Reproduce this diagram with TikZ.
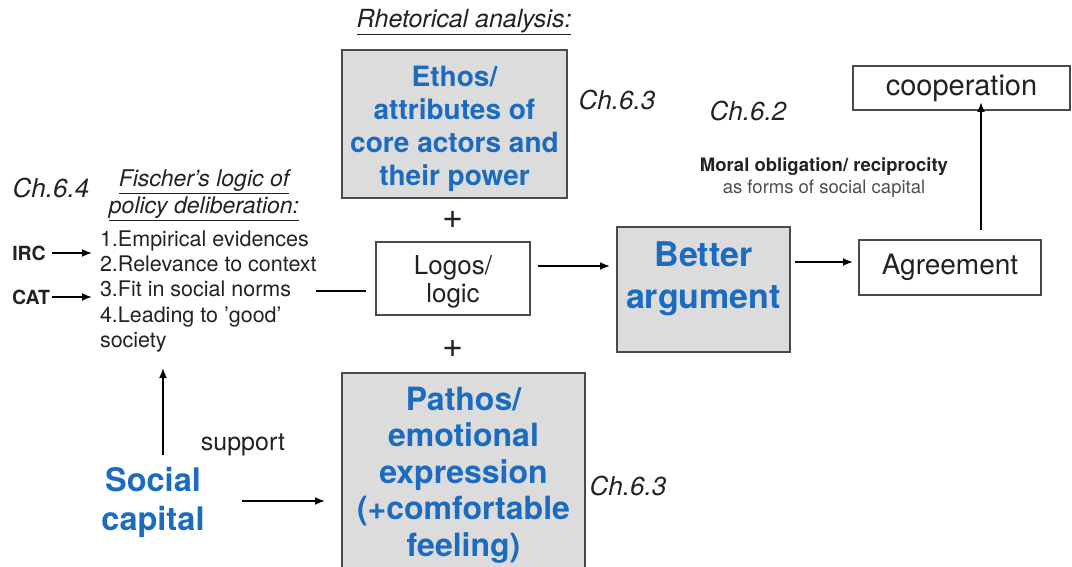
\documentclass[tikz,border=0pt]{standalone}
\usepackage{fontspec}
\setmainfont{TeX Gyre Heros}
\usetikzlibrary{arrows.meta}
\definecolor{keyblue}{HTML}{1B6BC0}
\definecolor{boxgray}{HTML}{DCDCDC}
\definecolor{edgegray}{HTML}{4A4A4A}
\definecolor{ink}{HTML}{222222}
\newcommand{\fs}[2]{\fontsize{#1}{#2}\selectfont}
\begin{document}
\begin{tikzpicture}[x=1pt,y=-1pt,
  every node/.style={inner sep=0pt,outer sep=0pt,text=ink},
  graybox/.style={draw=edgegray,line width=1.3pt,fill=boxgray},
  whitebox/.style={draw=edgegray,line width=1.2pt,fill=white},
  bluetext/.style={align=center,text=keyblue},
  chap/.style={font=\itshape\fs{26}{30}},
  arr/.style={line width=1.8pt,draw=black,-{Latex[length=10pt,width=8pt]}},
  conn/.style={line width=1.8pt,draw=black}]
\useasboundingbox (0,0) rectangle (1072,567);

% heading of the rhetorical column
\node[font=\itshape\fs{25}{28}] (rhet) at (464,22) {\underline{Rhetorical analysis:}};

% the three appeals: boxes first, then their texts
\node[graybox,minimum width=225pt,minimum height=148pt] (ethos) at (454.5,124) {};
\node[bluetext,font=\bfseries\fs{28}{33}] (ethostext) at ([yshift=-5pt]ethos.center)
  {Ethos/\\attributes of\\core actors and\\their power};
\node[whitebox,minimum width=154pt,minimum height=73pt] (logos) at (453,278.5) {};
\node[align=center,font=\fs{26}{28}] (logostext) at ([yshift=-3pt]logos.center) {Logos/\\logic};
\node[graybox,minimum width=243pt,minimum height=200pt] (pathos) at (463.5,473) {};
\node[bluetext,font=\bfseries\fs{32}{36.5}] (pathostext) at ([yshift=-2pt]pathos.center)
  {Pathos/\\emotional\\expression\\(+comfortable\\feeling)};
\node[font=\fs{36}{36}] (plusa) at (453,220) {+};
\node[font=\fs{36}{36}] (plusb) at (453,349) {+};

% outcome chain
\node[graybox,minimum width=173pt,minimum height=125pt] (better) at (703.5,289.5) {};
\node[bluetext,font=\bfseries\fs{34}{42}] (bettertext) at ([yshift=11pt]better.center) {Better\\argument};
\node[whitebox,minimum width=182pt,minimum height=55pt,font=\fs{28}{30}] (agree) at (950,267.5) {Agreement};
\node[whitebox,minimum width=217pt,minimum height=44pt,font=\fs{29}{30}] (coop) at (961.5,88) {cooperation};
\node[align=center,font=\fs{18.5}{22}] (moral) at (824,178)
  {\textbf{Moral obligation/ reciprocity}\\\textcolor{ink!80}{as forms of social capital}};

% chapter references
\node[chap] (ch63a) at (617,100) {Ch.6.3};
\node[chap] (ch62) at (748,111) {Ch.6.2};
\node[chap] (ch64) at (51,188) {Ch.6.4};
\node[chap] (ch63b) at (628,486) {Ch.6.3};

% Fischer's deliberation criteria
\node[align=center,font=\itshape\fs{23}{27}] (fischer) at (204,195)
  {\underline{Fischer's logic of}\\\underline{policy deliberation:}};
\node[align=left,anchor=west,font=\fs{21.5}{25.3}] (list) at (100,291.5)
  {1.Empirical evidences\\2.Relevance to context\\3.Fit in social norms\\4.Leading to 'good'\\society};
\node[font=\bfseries\fs{19.5}{22}] (irc) at (29,253) {IRC};
\node[font=\bfseries\fs{19.5}{22}] (cat) at (31,297) {CAT};

% social capital
\node[align=center,text=keyblue,font=\bfseries\fs{32.5}{39}] (social) at (153,502) {Social\\capital};
\node[font=\fs{25}{28}] (support) at (243,445) {support};

% connectors
\coordinate (ircend) at (92,253);
\coordinate (catend) at (92,297);
\draw[arr] (52,253) -- (ircend);
\draw[arr] (52,297) -- (catend);
\draw[conn] (316,291) -- ([xshift=-10pt]logos.west |- 0,291);
\draw[arr] ([xshift=8pt]logos.east |- 0,266) -- ([xshift=-7pt]better.west |- 0,266);
\draw[arr] ([xshift=5pt]better.east |- 0,262) -- ([xshift=-6pt]agree.west |- 0,262);
\draw[arr] (981,0 |- agree.north) ++(0,-10) -- ([yshift=8pt]981,0 |- coop.south);
\draw[arr] (163,455) -- (163,368);
\draw[arr] (242,501) -- ([xshift=-17pt]pathos.west |- 0,501);
\end{tikzpicture}
\end{document}
